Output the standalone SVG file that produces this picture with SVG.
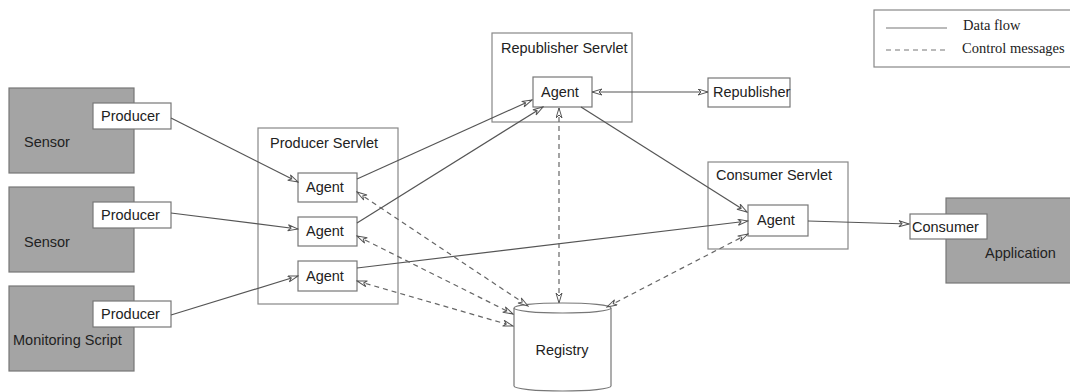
<svg xmlns="http://www.w3.org/2000/svg" width="1070" height="392" viewBox="0 0 1070 392">
<style>
text{font-family:"Liberation Sans",Arial,sans-serif;font-size:14.5px;fill:#222}
.leg{font-family:"Liberation Serif","Times New Roman",serif;font-size:14.5px}
.box{fill:#fff;stroke:#777;stroke-width:1.2}
.gray{fill:#a4a4a4;stroke:#777;stroke-width:1.2}
.frame{fill:none;stroke:#888;stroke-width:1.2}
.df{fill:none;stroke:#555;stroke-width:1.2;marker-end:url(#ah)}
.df2{fill:none;stroke:#555;stroke-width:1.2;marker-end:url(#ah);marker-start:url(#ah)}
.cm{fill:none;stroke:#666;stroke-width:1.2;stroke-dasharray:5 4;marker-end:url(#ah);marker-start:url(#ah)}
</style>
<defs>
<marker id="ah" markerUnits="userSpaceOnUse" markerWidth="12" markerHeight="8" refX="11" refY="3.5" orient="auto-start-reverse">
<path d="M1,0.5 L11,3.5 L1,6.5 L4,3.5 z" fill="#fff" stroke="#555" stroke-width="1"/>
</marker>
</defs>
<rect width="1070" height="392" fill="#fff"/>

<g id="legend">
<rect x="874" y="10" width="200" height="57" class="frame"/>
<line x1="886" y1="28" x2="947" y2="28" stroke="#777" stroke-width="1.2"/>
<line x1="886" y1="50" x2="947" y2="50" stroke="#777" stroke-width="1.2" stroke-dasharray="5 4"/>
<text x="963" y="30" class="leg">Data flow</text>
<text x="962" y="53" class="leg">Control messages</text>
</g>

<g id="sensor1">
<rect x="9" y="88" width="125" height="85" class="gray"/>
<text x="24" y="147">Sensor</text>
</g>
<g id="producer1">
<rect x="93" y="103" width="78" height="26" class="box"/>
<text x="101" y="121">Producer</text>
</g>
<g id="sensor2">
<rect x="9" y="187" width="125" height="85" class="gray"/>
<text x="24" y="247">Sensor</text>
</g>
<g id="producer2">
<rect x="93" y="202" width="78" height="26" class="box"/>
<text x="101" y="220">Producer</text>
</g>
<g id="monitoring">
<rect x="9" y="286" width="125" height="85" class="gray"/>
<text x="13" y="345">Monitoring Script</text>
</g>
<g id="producer3">
<rect x="93" y="301" width="78" height="26" class="box"/>
<text x="101" y="319">Producer</text>
</g>

<g id="producerServlet">
<rect x="258" y="128" width="140" height="176" class="frame"/>
<text x="270" y="148">Producer Servlet</text>
</g>
<g id="pagent1">
<rect x="298" y="173" width="59" height="29" class="box"/>
<text x="306" y="192">Agent</text>
</g>
<g id="pagent2">
<rect x="298" y="217" width="59" height="29" class="box"/>
<text x="306" y="236">Agent</text>
</g>
<g id="pagent3">
<rect x="298" y="261" width="59" height="30" class="box"/>
<text x="306" y="281">Agent</text>
</g>

<g id="republisherServlet">
<rect x="492" y="33" width="140" height="89" class="frame"/>
<text x="501" y="53">Republisher Servlet</text>
</g>
<g id="ragent">
<rect x="533" y="77" width="59" height="30" class="box"/>
<text x="541" y="97">Agent</text>
</g>
<g id="republisher">
<rect x="708" y="78" width="82" height="29" class="box"/>
<text x="713" y="97">Republisher</text>
</g>

<g id="consumerServlet">
<rect x="708" y="162" width="140" height="87" class="frame"/>
<text x="716" y="180">Consumer Servlet</text>
</g>
<g id="cagent">
<rect x="748" y="205" width="60" height="31" class="box"/>
<text x="757" y="225">Agent</text>
</g>

<g id="application">
<rect x="946" y="198" width="130" height="85" class="gray"/>
<text x="985" y="258">Application</text>
</g>
<g id="consumer">
<rect x="910" y="214" width="77" height="25" class="box"/>
<text x="912" y="232">Consumer</text>
</g>

<g id="registry">
<path d="M514,308 L514,386 A48.5,5 0 0 0 611,386 L611,308" class="box"/>
<ellipse cx="562.5" cy="308" rx="48.5" ry="5" class="box"/>
<text x="562" y="355" text-anchor="middle">Registry</text>
</g>

<g id="connectors">
<line x1="171" y1="118" x2="298" y2="182" class="df"/>
<line x1="171" y1="213" x2="298" y2="229" class="df"/>
<line x1="171" y1="315" x2="298" y2="276" class="df"/>
<line x1="357" y1="179" x2="532" y2="100" class="df"/>
<line x1="357" y1="223" x2="543" y2="107" class="df"/>
<line x1="357" y1="268" x2="748" y2="221" class="df"/>
<line x1="581" y1="107" x2="747" y2="212" class="df"/>
<line x1="592" y1="92" x2="708" y2="92" class="df2"/>
<line x1="808" y1="221" x2="909" y2="224" class="df"/>
<line x1="357" y1="192" x2="528" y2="306" class="cm"/>
<line x1="357" y1="236" x2="513" y2="314" class="cm"/>
<line x1="357" y1="281" x2="513" y2="326" class="cm"/>
<line x1="559" y1="108" x2="559" y2="303" class="cm"/>
<line x1="748" y1="234" x2="607" y2="307" class="cm"/>
</g>
</svg>
